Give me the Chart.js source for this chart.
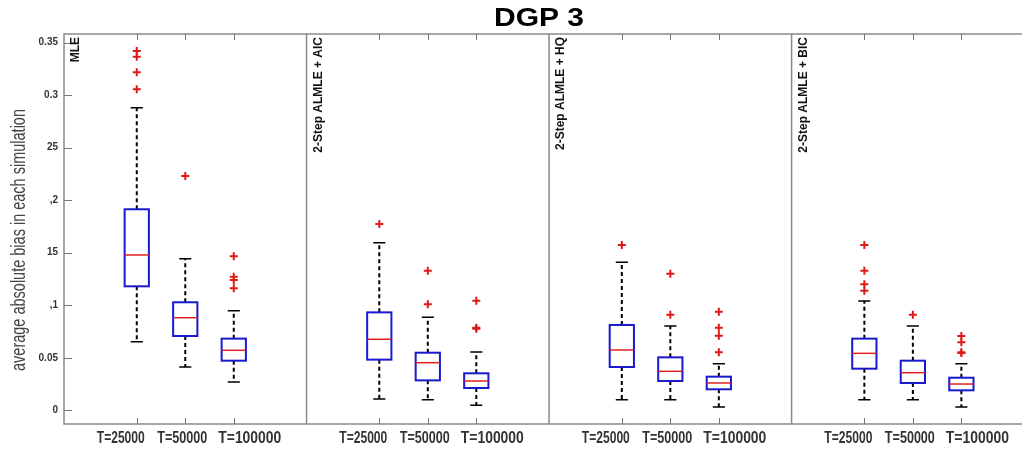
<!DOCTYPE html>
<html>
<head>
<meta charset="utf-8">
<script src="https://cdn.jsdelivr.net/npm/chart.js@4.4.1/dist/chart.umd.min.js"></script>
<style>
  html, body { margin: 0; padding: 0; background: #fff; }
  #wrap { width: 1022px; height: 454px; }
</style>
</head>
<body>
<div id="wrap"><canvas id="myChart" width="1022" height="454"></canvas></div>
<script>
var methods = ['MLE', '2-Step ALMLE + AIC', '2-Step ALMLE + HQ', '2-Step ALMLE + BIC'];
var sampleSizes = ['T=25000', 'T=50000', 'T=100000'];
var yTickValues = [0, 0.05, 0.1, 0.15, 0.2, 0.25, 0.3, 0.35];
var yTickLabels = ['0', '0.05', ',1', '15', ',2', '25', '0.3', '0.35'];

// one entry per box: MLE, AIC, HQ, BIC, each with T=25000, 50000, 100000
var whiskerLow  = [0.0653, 0.0412, 0.0269, 0.0108, 0.0101, 0.0048, 0.0101, 0.0101, 0.0031, 0.0101, 0.0101, 0.0031];
var q1          = [0.1180, 0.0707, 0.0472, 0.0482, 0.0285, 0.0212, 0.0412, 0.0279, 0.0200, 0.0396, 0.0260, 0.0190];
var medians     = [0.1478, 0.0881, 0.0571, 0.0676, 0.0453, 0.0279, 0.0574, 0.0371, 0.0260, 0.0542, 0.0358, 0.0250];
var q3          = [0.1913, 0.1028, 0.0682, 0.0932, 0.0548, 0.0352, 0.0812, 0.0504, 0.0320, 0.0682, 0.0472, 0.0310];
var whiskerHigh = [0.2880, 0.1443, 0.0948, 0.1595, 0.0885, 0.0555, 0.1408, 0.0802, 0.0443, 0.1040, 0.0802, 0.0443];
var outliers = [
  [0.342, 0.3365, 0.3216, 0.3055],
  [0.223],
  [0.1465, 0.1271, 0.124, 0.1161],
  [0.1773],
  [0.1328, 0.1009],
  [0.1043, 0.0785, 0.0777],
  [0.1573],
  [0.13, 0.091],
  [0.0938, 0.0786, 0.071, 0.0552],
  [0.1573, 0.1328, 0.1199, 0.1138],
  [0.091],
  [0.0707, 0.0647, 0.0552, 0.0545]
];

function boxPos(i) { return Math.floor(i / 3) * 5 + 1.5 + i % 3; }

var positions = medians.map(function (m, i) { return boxPos(i); });
var outlierPoints = [];
outliers.forEach(function (list, i) {
  list.forEach(function (v) { outlierPoints.push({ x: boxPos(i), y: v }); });
});

var sans = '"Liberation Sans", Arial, sans-serif';

// draws text squeezed/stretched along its own direction to a given length
function fitText(ctx, text, x, y, width) {
  var w = ctx.measureText(text).width;
  ctx.save();
  ctx.translate(x, y);
  ctx.scale(width / w, 1);
  ctx.fillText(text, 0, 0);
  ctx.restore();
}

var boxPlugin = {
  id: 'boxes',
  beforeDatasetsDraw: function (chart) {
    var ctx = chart.ctx, xs = chart.scales.x, ys = chart.scales.y, a = chart.chartArea;
    ctx.save();
    // frame and panel separators
    ctx.strokeStyle = '#8a8a8a';
    ctx.lineWidth = 1.5;
    ctx.beginPath();
    ctx.moveTo(a.right, a.top); ctx.lineTo(a.left, a.top); ctx.lineTo(a.left, a.bottom); ctx.lineTo(a.right, a.bottom);
    [5, 10, 15].forEach(function (v) {
      var px = xs.getPixelForValue(v);
      ctx.moveTo(px, a.top); ctx.lineTo(px, a.bottom);
    });
    ctx.stroke();
    // inward tick marks
    ctx.strokeStyle = '#777';
    ctx.lineWidth = 1;
    ctx.beginPath();
    positions.forEach(function (p) {
      var px = Math.round(xs.getPixelForValue(p)) + 0.5;
      ctx.moveTo(px, a.top); ctx.lineTo(px, a.top + 6);
      ctx.moveTo(px, a.bottom); ctx.lineTo(px, a.bottom - 6);
    });
    yTickValues.forEach(function (v) {
      var py = Math.round(ys.getPixelForValue(v)) + 0.5;
      ctx.moveTo(a.left, py); ctx.lineTo(a.left + 8, py);
    });
    ctx.stroke();

    // boxes
    medians.forEach(function (m, i) {
      var p = positions[i];
      var x = xs.getPixelForValue(p);
      var xl = xs.getPixelForValue(p - 0.25), xr = xs.getPixelForValue(p + 0.25);
      var cl = xs.getPixelForValue(p - 0.125), cr = xs.getPixelForValue(p + 0.125);
      var yq1 = ys.getPixelForValue(q1[i]), yq3 = ys.getPixelForValue(q3[i]);
      var ylo = ys.getPixelForValue(whiskerLow[i]), yhi = ys.getPixelForValue(whiskerHigh[i]);
      var ym = ys.getPixelForValue(m);

      ctx.strokeStyle = '#000';
      ctx.lineWidth = 2;
      ctx.setLineDash([4, 3]);
      ctx.beginPath();
      ctx.moveTo(x, yq3); ctx.lineTo(x, yhi);
      ctx.moveTo(x, yq1); ctx.lineTo(x, ylo);
      ctx.stroke();
      ctx.setLineDash([]);
      ctx.lineWidth = 1.5;
      ctx.beginPath();
      ctx.moveTo(cl, yhi); ctx.lineTo(cr, yhi);
      ctx.moveTo(cl, ylo); ctx.lineTo(cr, ylo);
      ctx.stroke();

      ctx.strokeStyle = 'rgb(25,25,205)';
      ctx.lineWidth = 2;
      ctx.strokeRect(xl, yq3, xr - xl, yq1 - yq3);

      ctx.strokeStyle = '#e02020';
      ctx.lineWidth = 1.5;
      ctx.beginPath();
      ctx.moveTo(xl, ym); ctx.lineTo(xr, ym);
      ctx.stroke();
    });
    ctx.restore();
  },
  afterDraw: function (chart) {
    var ctx = chart.ctx, xs = chart.scales.x, a = chart.chartArea;
    ctx.save();
    ctx.textAlign = 'center';
    ctx.textBaseline = 'middle';
    // main title
    ctx.fillStyle = '#000';
    ctx.font = 'bold 26px ' + sans;
    fitText(ctx, 'DGP 3', 539, 19, 90);
    // sample size labels, spread out under each group as in the original
    ctx.fillStyle = '#333';
    ctx.font = 'bold 17px ' + sans;
    var labelWidths = [48, 50, 63];
    var labelShift = [-16, -3, 16];
    positions.forEach(function (p, i) {
      var j = i % 3;
      fitText(ctx, sampleSizes[j], xs.getPixelForValue(p) + labelShift[j], a.bottom + 14, labelWidths[j]);
    });
    // y axis title
    ctx.save();
    ctx.translate(19, 240);
    ctx.rotate(-Math.PI / 2);
    ctx.fillStyle = '#444';
    ctx.font = '20px ' + sans;
    fitText(ctx, 'average absolute bias in each simulation', 0, 0, 262);
    ctx.restore();
    // panel labels
    ctx.fillStyle = '#111';
    ctx.font = 'bold 12px ' + sans;
    ctx.textAlign = 'right';
    methods.forEach(function (name, p) {
      var x0 = xs.getPixelForValue(p * 5);
      ctx.save();
      ctx.translate(x0 + 12, a.top + 3);
      ctx.rotate(-Math.PI / 2);
      ctx.fillText(name, 0, 0);
      ctx.restore();
    });
    ctx.restore();
  }
};

var ctx = document.getElementById('myChart').getContext('2d');
var myChart = new Chart(ctx, {
  type: 'scatter',
  data: {
    datasets: [{
      label: 'outliers',
      data: outlierPoints,
      pointStyle: 'cross',
      pointRadius: 4,
      borderColor: '#e01818',
      backgroundColor: '#e01818',
      borderWidth: 2
    }]
  },
  options: {
    responsive: false,
    animation: false,
    layout: { autoPadding: false, padding: { top: 34, left: 0, right: 0, bottom: 0 } },
    plugins: { legend: { display: false }, tooltip: { enabled: false } },
    scales: {
      x: {
        type: 'linear',
        min: 0,
        max: 19.75,
        grid: { display: false, drawTicks: false },
        border: { display: false },
        ticks: { display: false },
        afterFit: function (scale) { scale.height = 30; }
      },
      y: {
        min: -0.01304,
        max: 0.3581,
        grid: { display: false, drawTicks: false },
        border: { display: false },
        afterBuildTicks: function (scale) {
          scale.ticks = yTickValues.map(function (v) { return { value: v }; });
        },
        afterFit: function (scale) { scale.width = 64; },
        ticks: {
          padding: 6,
          color: '#333',
          font: { family: sans, size: 10, weight: 'bold' },
          callback: function (v, i) { return yTickLabels[i]; }
        }
      }
    }
  },
  plugins: [boxPlugin]
});
</script>
</body>
</html>
